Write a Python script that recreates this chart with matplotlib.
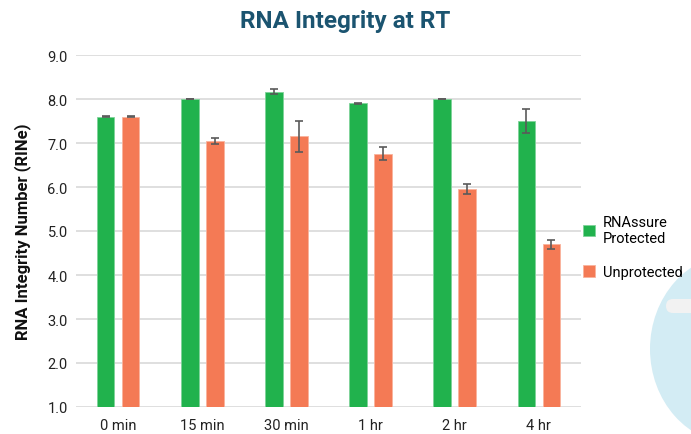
import matplotlib.pyplot as plt
import numpy as np
from matplotlib.patches import Ellipse, FancyBboxPatch

times = ["0 min", "15 min", "30 min", "1 hr", "2 hr", "4 hr"]
protected = [7.6, 8.0, 8.17, 7.9, 8.0, 7.5]
protected_err = [0.01, 0.01, 0.06, 0.01, 0.01, 0.27]
unprotected = [7.6, 7.05, 7.15, 6.76, 5.96, 4.70]
unprotected_err = [0.01, 0.07, 0.35, 0.15, 0.11, 0.10]

green = "#21b24d"
orange = "#f47a55"
title_color = "#1b5470"

plt.rcParams["font.family"] = ["Roboto", "DejaVu Sans"]

fig = plt.figure(figsize=(6.91, 4.35), dpi=100)

# decorative drop in the background, bottom right
bg = fig.add_axes([0, 0, 1, 1], zorder=-1)
bg.set_xlim(0, 691)
bg.set_ylim(435, 0)
bg.axis("off")
bg.add_patch(Ellipse((735, 350), 170, 190, color="#d3ecf4", lw=0))
bg.add_patch(FancyBboxPatch((666, 300), 60, 14, boxstyle="round,pad=0,rounding_size=7",
                            color="#f2f2f2", lw=0))

ax = fig.add_axes([76 / 691, 27 / 435, 505 / 691, 352 / 435])
x = np.arange(len(times))
w = 0.21
off = 0.149
err_kw = dict(ecolor="#5a5a5a", elinewidth=1.2, capsize=3, capthick=1.2)
ax.bar(x - off, protected, w, yerr=protected_err, color=green,
       edgecolor="#7fd39a", linewidth=0.6, label="RNAssure\nProtected", error_kw=err_kw, zorder=3)
ax.bar(x + off, unprotected, w, yerr=unprotected_err, color=orange,
       edgecolor="#f9b39d", linewidth=0.6, label="Unprotected", error_kw=err_kw, zorder=3)

ax.set_xlim(-0.5, len(times) - 0.5)
ax.set_ylim(1.0, 9.0)
ax.set_yticks(np.arange(1.0, 9.01, 1.0))
ax.set_yticklabels([f"{v:.1f}" for v in np.arange(1.0, 9.01, 1.0)])
ax.set_xticks(x)
ax.set_xticklabels(times)
ax.tick_params(axis="both", length=0, labelsize=10.5, colors="#222222")
ax.tick_params(axis="x", pad=8)
ax.tick_params(axis="y", pad=6)
ax.grid(axis="y", color="#d9d9d9", lw=1.2, zorder=0)
for s in ax.spines.values():
    s.set_visible(False)
ax.set_facecolor("none")

ax.set_ylabel("RNA Integrity Number (RINe)", fontsize=12, fontweight="bold",
              color="#111111", labelpad=12)
fig.text(0.5, 0.95, "RNA Integrity at RT", ha="center", va="center",
         fontsize=17.5, fontweight="bold", color=title_color)

ax.legend(loc="center left", bbox_to_anchor=(1.004, 0.455), frameon=False,
          borderpad=0, borderaxespad=0,
          fontsize=10.5, handlelength=0.85, handleheight=0.85, handletextpad=0.5,
          labelspacing=1.35)

fig.savefig("out.png", dpi=100)
